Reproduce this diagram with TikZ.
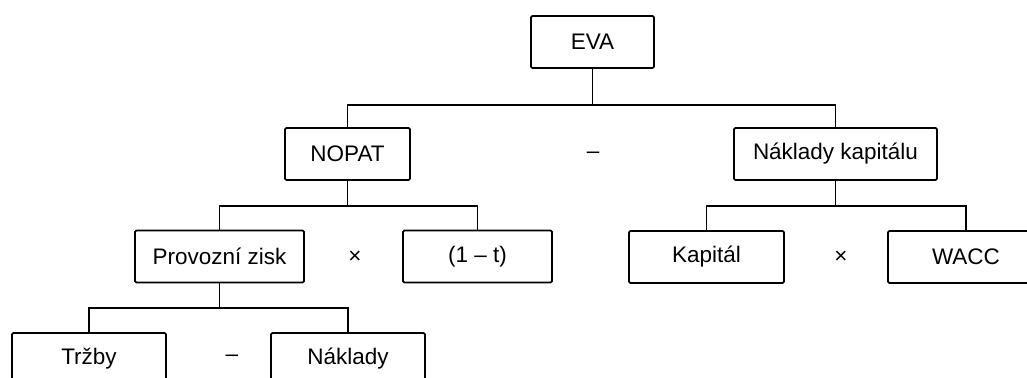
\documentclass[tikz,border=0pt]{standalone}
\usepackage{fontspec}
\setmainfont{Liberation Sans}
\usepackage{tikz}

\begin{document}
\begin{tikzpicture}[x=0.02cm,y=-0.02cm,
    box/.style={draw,line width=1pt,rounded corners=0.8pt,minimum height=1.04cm,inner sep=0pt},
    op/.style={inner sep=0pt},
    every node/.style={font=\fontsize{12.8}{15}\selectfont},
    line width=1pt]
    \clip (0,0) rectangle (1027,378);
    \node[box,minimum width=2.46cm] (eva) at (592.5,42) {EVA};
    \node[box,minimum width=2.5cm] (nopat) at (347.5,154) {NOPAT};
    \node[box,minimum width=4.06cm] (naklkap) at (835.5,154) {Náklady kapitálu};
    \node[op] (minus1) at (593,155) {–};
    \node[box,minimum width=3.38cm] (zisk) at (219.5,256.5) {Provozní zisk};
    \node[box,minimum width=2.98cm] (dan) at (477.5,256.5) {(1 – t)};
    \node[op] (krat1) at (355,257) {×};
    \node[box,minimum width=3.1cm] (kapital) at (706.5,257) {Kapitál};
    \node[box,minimum width=3.12cm] (wacc) at (966,257) {WACC};
    \node[op] (krat2) at (841,257) {×};
    \node[box,minimum width=3.08cm] (trzby) at (89,359) {Tržby};
    \node[box,minimum width=3.08cm] (naklady) at (348,359) {Náklady};
    \node[op] (minus2) at (232,358) {–};
    \draw (eva.south) -- ++(0,36) coordinate (evabar);
    \draw (nopat.north) |- (evabar) -| (naklkap.north);
    \draw (nopat.south) -- ++(0,25) coordinate (nopatbar);
    \draw (zisk.north) |- (nopatbar) -| (dan.north);
    \draw (naklkap.south) -- ++(0,25) coordinate (kapbar);
    \draw (kapital.north) |- (kapbar) -| (wacc.north);
    \draw (zisk.south) -- ++(0,25) coordinate (ziskbar);
    \draw (trzby.north) |- (ziskbar) -| (naklady.north);
\end{tikzpicture}
\end{document}
